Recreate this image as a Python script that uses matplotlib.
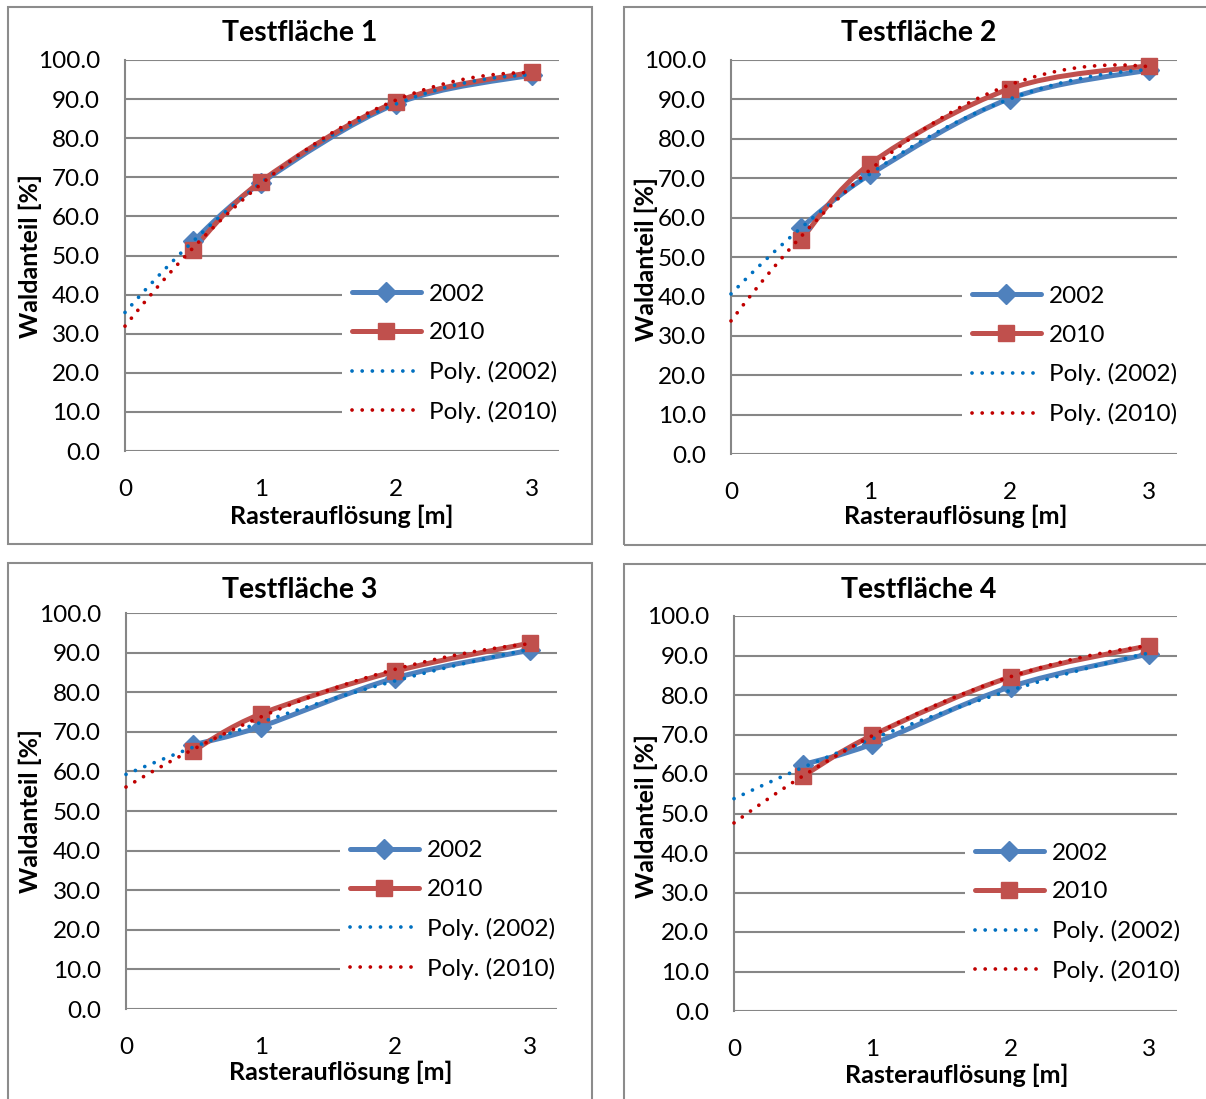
import numpy as np
import matplotlib
matplotlib.use("Agg")
import matplotlib.pyplot as plt
from matplotlib.path import Path
from matplotlib.patches import PathPatch, Rectangle
from matplotlib.lines import Line2D
from matplotlib.ticker import FormatStrFormatter

plt.rcParams['font.family'] = ['Lato', 'DejaVu Sans']

W, H = 1206, 1099

# Rasteraufloesung [m]
aufloesung = [0.5, 1, 2, 3]
titel = ["Testfläche 1", "Testfläche 2", "Testfläche 3", "Testfläche 4"]
# Waldanteil [%] per Testflaeche
wald_2002 = [
    [53.6, 68.5, 88.8, 96.2],
    [57.4, 71.0, 90.2, 97.5],
    [66.7, 71.3, 83.6, 90.6],
    [62.4, 67.6, 82.1, 90.4],
]
wald_2010 = [
    [51.5, 68.9, 89.3, 96.9],
    [54.3, 73.7, 92.7, 98.6],
    [65.2, 74.5, 85.3, 92.4],
    [59.5, 69.8, 84.6, 92.5],
]
y_ticks = [0, 10, 20, 30, 40, 50, 60, 70, 80, 90, 100]
x_ticks = [0, 1, 2, 3]

blue = '#4F81BD'
red = '#C0504D'
blue_t = '#0070C0'
red_t = '#C00000'
grid_c = '#868686'

# pixel boxes: panel border, plot area, title/label positions, legend left edge
panels = [
    dict(box=(8, 7, 592, 544), ax=(125, 60, 559, 451), title=(300, 33), xl=(342, 516), yl=(30, 256), leg=342),
    dict(box=(624, 7, 1210, 545), ax=(731, 60, 1177, 454), title=(919, 33), xl=(956, 516), yl=(646, 259), leg=962),
    dict(box=(8, 563, 592, 1103), ax=(126, 613, 557, 1009), title=(300, 590), xl=(341, 1072), yl=(30, 811), leg=340),
    dict(box=(624, 564, 1210, 1103), ax=(734, 616, 1177, 1011), title=(919, 590), xl=(957, 1075), yl=(646, 816), leg=965),
]


def fx(px):
    return px / W


def fy(py):
    return 1 - py / H


def smooth_path(xs, ys):
    # excel-like smoothed line as bezier curve through the points
    pts = np.column_stack([xs, ys]).astype(float)
    p = np.vstack([pts[0], pts, pts[-1]])
    verts = [pts[0]]
    codes = [Path.MOVETO]
    for i in range(len(pts) - 1):
        p0, p1, p2, p3 = p[i], p[i + 1], p[i + 2], p[i + 3]
        verts += [p1 + (p2 - p0) / 6, p2 - (p3 - p1) / 6, p2]
        codes += [Path.CURVE4] * 3
    return Path(verts, codes)


fig = plt.figure(figsize=(W / 100, H / 100), dpi=100)

dot = (0, (0.01, 2.7))

for i, pn in enumerate(panels):
    x0, y0, x1, y1 = pn['box']
    fig.patches.append(Rectangle((fx(x0), fy(y1)), fx(x1 - x0), (y1 - y0) / H,
                                 transform=fig.transFigure, fill=False,
                                 edgecolor='#8c8c8c', lw=1.5))
    l, t, r, b = pn['ax']
    ax = fig.add_axes([fx(l), fy(b), fx(r - l), (b - t) / H])
    ax.set_xlim(0, 3.2)
    ax.set_ylim(0, 100)
    ax.set_yticks(y_ticks)
    ax.set_xticks(x_ticks)
    ax.yaxis.set_major_formatter(FormatStrFormatter('%.1f'))
    ax.tick_params(length=0, labelsize=17.5, colors='black')
    ax.tick_params(axis='y', pad=18)
    ax.tick_params(axis='x', pad=20)
    ax.grid(axis='y', color=grid_c, lw=1.5)
    ax.set_axisbelow(True)
    for s in ['top', 'right', 'bottom']:
        ax.spines[s].set_visible(False)
    ax.spines['left'].set_color(grid_c)
    ax.spines['left'].set_linewidth(1.5)

    for yy, col, mk, ms in [(wald_2002[i], blue, 'D', 10.5), (wald_2010[i], red, 's', 11.5)]:
        ax.add_patch(PathPatch(smooth_path(aufloesung, yy), fill=False, edgecolor=col,
                               lw=3.6, capstyle='round', joinstyle='round', zorder=3))
        ax.plot(aufloesung, yy, ls='none', marker=mk, ms=ms, color=col, zorder=4, clip_on=False)

    xt = np.linspace(0, 3, 300)
    for yy, col in [(wald_2002[i], blue_t), (wald_2010[i], red_t)]:
        coef = np.polyfit(aufloesung, yy, 2)
        ax.plot(xt, np.polyval(coef, xt), color=col, lw=2.7, ls=dot,
                dash_capstyle='round', zorder=5, clip_on=False)

    handles = [
        Line2D([], [], color=blue, lw=3.6, marker='D', ms=10.5, solid_capstyle='round'),
        Line2D([], [], color=red, lw=3.6, marker='s', ms=11.5, solid_capstyle='round'),
        Line2D([], [], color=blue_t, lw=2.7, ls=dot, dash_capstyle='round'),
        Line2D([], [], color=red_t, lw=2.7, ls=dot, dash_capstyle='round'),
    ]
    lx = (pn['leg'] - l) / (r - l)
    leg = ax.legend(handles, ['2002', '2010', 'Poly. (2002)', 'Poly. (2010)'],
                    loc='center left', bbox_to_anchor=(lx, 0.05, 1 - lx, 0.4), mode='expand',
                    borderaxespad=0, fontsize=17.5, handlelength=2.85, handletextpad=0.33,
                    labelspacing=0.73, borderpad=0.4, frameon=True, fancybox=False)
    leg.get_frame().set_facecolor('white')
    leg.get_frame().set_edgecolor('none')
    leg.get_frame().set_alpha(1)
    leg.set_zorder(6)

    fig.text(fx(pn['title'][0]), fy(pn['title'][1]), titel[i], ha='center', va='center',
             fontsize=20.5, fontweight='bold')
    fig.text(fx(pn['xl'][0]), fy(pn['xl'][1]), 'Rasterauflösung [m]', ha='center', va='center',
             fontsize=18, fontweight='bold')
    fig.text(fx(pn['yl'][0]), fy(pn['yl'][1]), 'Waldanteil [%]', ha='center', va='center',
             rotation=90, fontsize=18, fontweight='bold')

fig.savefig('out.png', dpi=100)
